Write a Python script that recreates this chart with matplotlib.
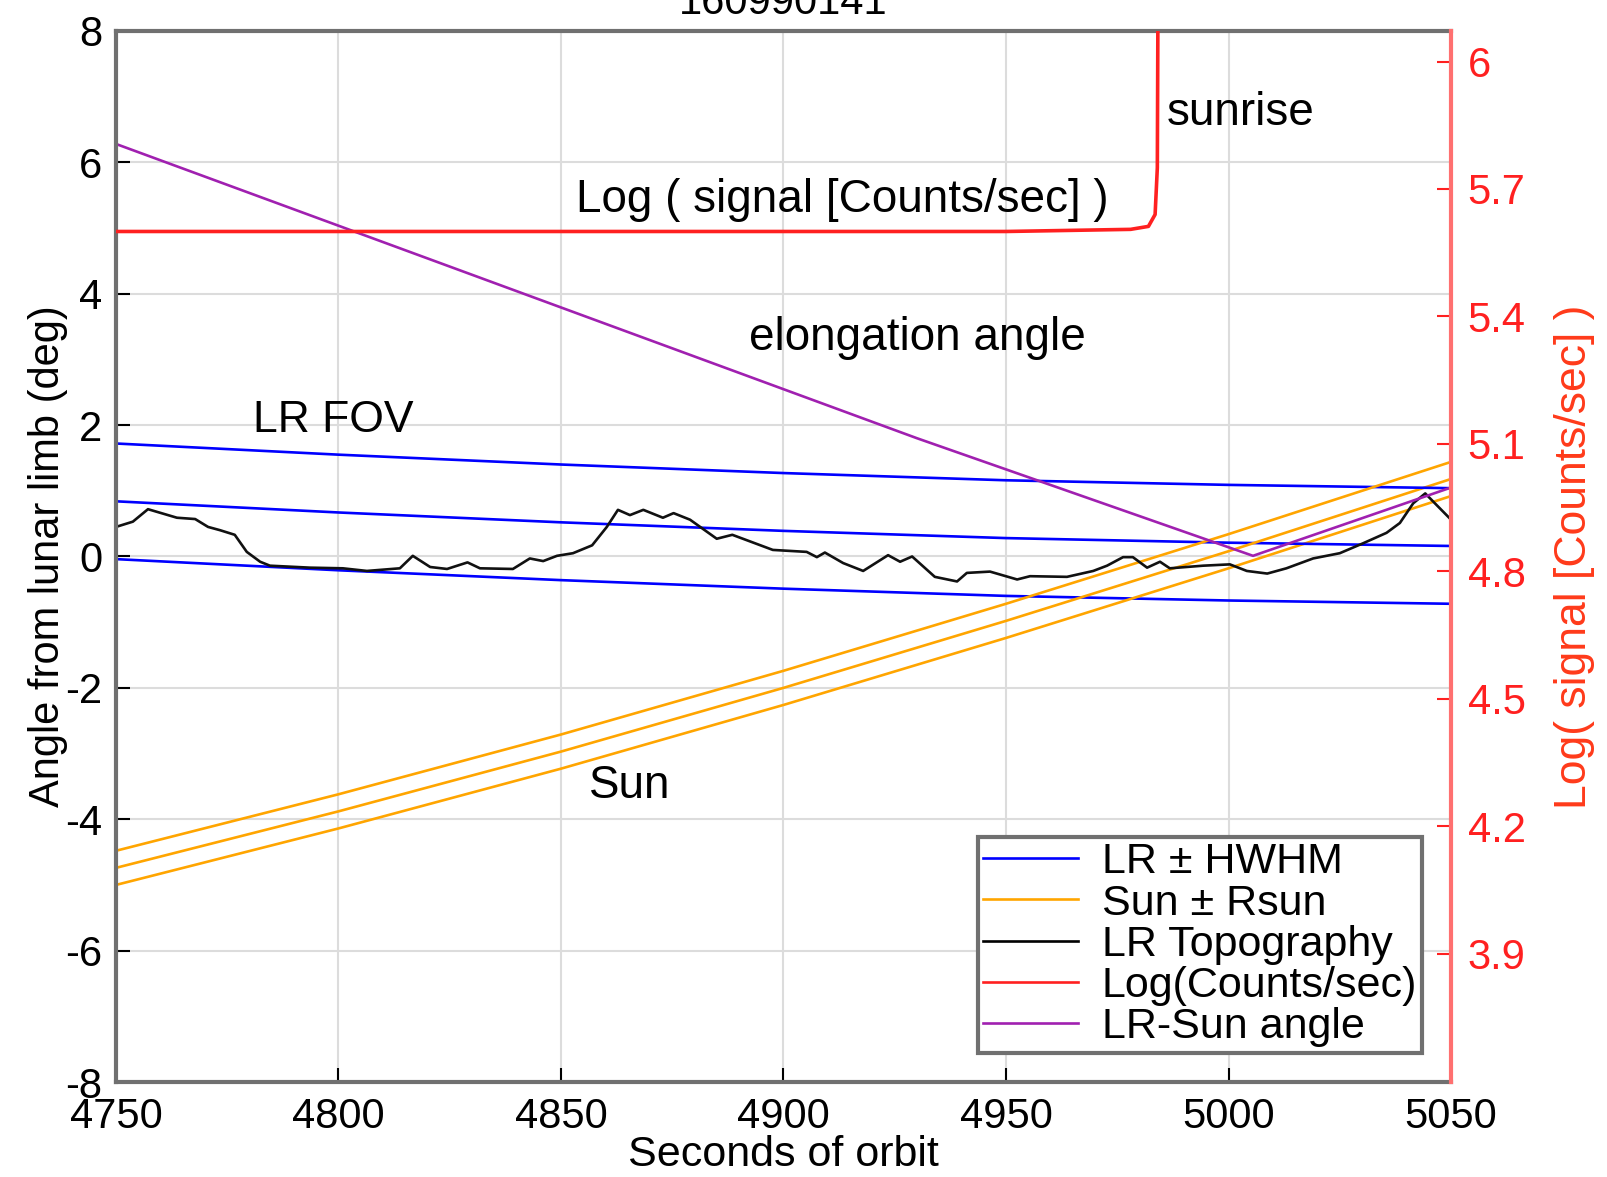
import matplotlib
matplotlib.use('Agg')
import matplotlib.pyplot as plt

plt.rcParams['font.family'] = ['Liberation Sans', 'DejaVu Sans']
plt.rcParams['axes.unicode_minus'] = False

# time axis samples (s)
t = [4750, 4800, 4850, 4900, 4950, 5000, 5050]
lr_center = [0.84, 0.67, 0.52, 0.39, 0.28, 0.21, 0.16]
lr_hwhm = 0.88
sun_center = [-4.74, -3.88, -2.97, -2.00, -0.98, 0.08, 1.18]
sun_radius = 0.26

elong_t = [4750, 4930, 5005.5, 5050]
elong = [6.28, 1.80, 0.01, 1.05]

topo_t = [4750, 4753.8, 4757.2, 4763.7, 4767.8, 4770.7, 4773.4, 4776.7, 4779.4,
          4782.4, 4784.6, 4793.6, 4801, 4806.4, 4813.8, 4816.7, 4820.6, 4824.4,
          4829, 4831.8, 4839.2, 4843, 4846, 4849.1, 4852.7, 4857, 4860.3, 4862.8,
          4865.5, 4868.5, 4872.9, 4875.3, 4879, 4885, 4888.5, 4897.6, 4905.2,
          4907.5, 4909.3, 4913.4, 4917.9, 4923.5, 4926.2, 4928.9, 4934, 4939,
          4941.2, 4946.4, 4952.5, 4955.4, 4963.7, 4969.6, 4972.7, 4976.3, 4978.5,
          4981.7, 4984.6, 4986.8, 4994.3, 5000.3, 5004.1, 5008.7, 5013, 5019,
          5025, 5030.2, 5035.5, 5038.5, 5041.5, 5044.2, 5046.8, 5050]
topo = [0.45, 0.53, 0.72, 0.59, 0.57, 0.45, 0.40, 0.33, 0.07,
        -0.08, -0.14, -0.17, -0.18, -0.22, -0.18, 0.01, -0.16, -0.19,
        -0.09, -0.18, -0.19, -0.03, -0.07, 0.01, 0.05, 0.17, 0.45, 0.71,
        0.63, 0.71, 0.59, 0.66, 0.56, 0.27, 0.33, 0.10, 0.07,
        -0.01, 0.06, -0.10, -0.22, 0.02, -0.08, 0.00, -0.31, -0.38,
        -0.25, -0.23, -0.35, -0.30, -0.31, -0.22, -0.14, -0.01, -0.01,
        -0.17, -0.08, -0.18, -0.14, -0.12, -0.22, -0.26, -0.18, -0.03,
        0.05, 0.20, 0.36, 0.51, 0.81, 0.96, 0.78, 0.56]

sig_t = [4750, 4850, 4950, 4978, 4982, 4983.5, 4984, 4984.2]
sig = [5.60, 5.60, 5.60, 5.605, 5.612, 5.64, 5.75, 6.3]

xticks = [4750, 4800, 4850, 4900, 4950, 5000, 5050]
yticks = [-8, -6, -4, -2, 0, 2, 4, 6, 8]
rticks = [3.9, 4.2, 4.5, 4.8, 5.1, 5.4, 5.7, 6.0]
rlabels = ['3.9', '4.2', '4.5', '4.8', '5.1', '5.4', '5.7', '6']

BLUE = '#0000ff'
ORANGE = '#ffa500'
PURPLE = '#a020b0'
RED = '#ff2020'
AXRED = '#ff7070'

fig = plt.figure(figsize=(16.08, 11.77), dpi=100)
ax = fig.add_axes([0.0721, 0.0807, 0.8303, 0.8930])
ax2 = ax.twinx()

lw = 1.9
for s in (-1, 0, 1):
    ax.plot(t, [c + s * lr_hwhm for c in lr_center], color=BLUE, lw=lw)
    ax.plot(t, [c + s * sun_radius for c in sun_center], color=ORANGE, lw=lw)
ax.plot(topo_t, topo, color='#111111', lw=lw)
ax.plot(elong_t, elong, color=PURPLE, lw=lw)
ax2.plot(sig_t, sig, color=RED, lw=2.6)

ax.set_xlim(4750, 5050)
ax.set_ylim(-8, 8)
ax2.set_ylim(3.598, 6.072)
ax.set_xticks(xticks)
ax.set_yticks(yticks)
ax2.set_yticks(rticks)
ax2.set_yticklabels(rlabels)

ax.grid(True, color='#dcdcdc', lw=1.5)
ax.set_axisbelow(True)

ax.tick_params(axis='both', direction='in', length=10, width=1.5,
               labelsize=30, colors='black', pad=10)
ax.tick_params(axis='x', pad=11)
ax2.tick_params(axis='y', direction='in', length=10, width=1.5,
                labelsize=30, colors=RED, pad=12)

for name in ('top', 'left', 'bottom'):
    ax.spines[name].set_color('#707070')
    ax.spines[name].set_linewidth(3)
for name in ('top', 'left', 'bottom'):
    ax2.spines[name].set_visible(False)
ax2.spines['right'].set_color(AXRED)
ax2.spines['right'].set_linewidth(3)
ax.spines['right'].set_visible(False)

ax.set_xlabel('Seconds of orbit', fontsize=31, labelpad=-2)
ax.set_ylabel('Angle from lunar limb (deg)', fontsize=30, labelpad=-2)
ax2.set_ylabel('Log( signal [Counts/sec] )', fontsize=32, color='#ff3a1a',
               labelpad=20)

fig.text(0.4873, 0.988, '160990141', fontsize=30, ha='center', va='baseline')

tkw = dict(fontsize=33, color='black', va='center', ha='left')
ax.text(4986, 6.75, 'sunrise', **tkw)
ax.text(4853.4, 5.43, 'Log ( signal [Counts/sec] )', **tkw)
ax.text(4892.2, 3.32, 'elongation angle', **tkw)
ax.text(4780.8, 2.07, 'LR FOV', fontsize=32, color='black', va='center',
        ha='left')
ax.text(4856.2, -3.50, 'Sun', **tkw)

handles = [
    plt.Line2D([], [], color=BLUE, lw=lw),
    plt.Line2D([], [], color=ORANGE, lw=lw),
    plt.Line2D([], [], color='black', lw=lw),
    plt.Line2D([], [], color=RED, lw=lw),
    plt.Line2D([], [], color=PURPLE, lw=lw),
]
labels = ['LR ± HWHM', 'Sun ± Rsun', 'LR Topography', 'Log(Counts/sec)',
          'LR-Sun angle']
leg = ax2.legend(handles, labels, loc='lower right',
                 bbox_to_anchor=(0.9785, 0.028), fontsize=31, frameon=True,
                 fancybox=False, labelspacing=0.03, handlelength=2.2,
                 handletextpad=0.55, borderpad=0.12, borderaxespad=0)
leg.get_frame().set_edgecolor('#707070')
leg.get_frame().set_linewidth(3)
leg.get_frame().set_alpha(1)

fig.savefig('out.png', dpi=100)
